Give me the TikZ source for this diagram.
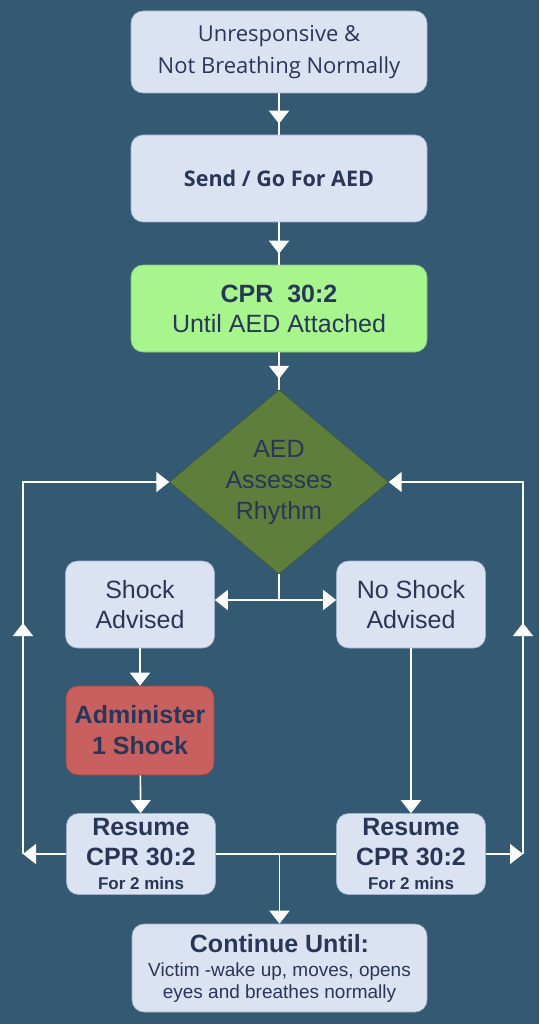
\documentclass[tikz,border=0pt]{standalone}
\usepackage{fontspec}
\setmainfont{Liberation Sans}
\newfontfamily\headfont{Open Sans}
\usetikzlibrary{arrows.meta,shapes.geometric,decorations.markings}

\definecolor{backdrop}{RGB}{52,90,115}
\definecolor{stepfill}{RGB}{219,226,241}
\definecolor{stepline}{RGB}{160,176,202}
\definecolor{inkblue}{RGB}{40,55,88}
\definecolor{cprgreen}{RGB}{168,245,142}
\definecolor{aedgreen}{RGB}{93,127,59}
\definecolor{shockred}{RGB}{200,96,96}

\tikzset{
  stepbox/.style={draw=stepline, line width=0.6pt, fill=stepfill, rounded corners=12pt,
    text=inkblue, align=center, inner sep=0pt},
  wide/.style={stepbox, minimum width=296pt, minimum height=87pt},
  narrow/.style={stepbox, minimum width=149pt, minimum height=87pt},
  decide/.style={diamond, draw=aedgreen!70!black, fill=aedgreen, aspect=1.19, inner sep=0pt,
    minimum width=219pt, minimum height=184pt, align=center, text=inkblue},
  big/.style={font=\fontsize{25}{30}\selectfont},
  wire/.style={white, line width=1.6pt},
  flow/.style={wire, -{Triangle[length=13pt,width=20pt]}},
  lead/.style={wire, postaction={decorate, decoration={markings,
    mark=at position -11pt with {\arrow{Triangle[length=13pt,width=20pt]}}}}},
  midup/.style={flow, postaction={decorate, decoration={markings,
    mark=at position 231pt with {\arrow{Triangle[length=13pt,width=20pt]}}}}}
}

\begin{document}
\begin{tikzpicture}[x=1pt, y=-1pt]
  \fill[backdrop] (0,0) rectangle (539,1024);
  \useasboundingbox (0,0) rectangle (539,1024);

  % main column
  \node[wide, minimum height=82pt, font=\headfont\fontsize{22}{32}\selectfont] (unresp) at (279,52)
    {Unresponsive \&\\Not Breathing Normally};
  \node[wide, font=\headfont\bfseries\fontsize{21.5}{26}\selectfont] (sendaed) at (279,178.5)
    {Send / Go For AED};
  \node[wide, fill=cprgreen, draw=cprgreen!80!black, big] (cpr) at (279,308.5)
    {\textbf{CPR\ \ 30:2}\\Until AED Attached};
  \node[decide, font=\fontsize{25}{31}\selectfont] (assess) at (279,482)
    {AED\\Assesses\\Rhythm};

  % the two branches
  \node[narrow, big] (shock) at (140,604.5) {Shock\\Advised};
  \node[narrow, big] (noshock) at (411,604.5) {No Shock\\Advised};
  \node[narrow, minimum width=148pt, minimum height=89pt, fill=shockred, draw=shockred!75!black,
    font=\bfseries\fontsize{25}{31}\selectfont] (admin) at (140,730.5) {Administer\\1 Shock};
  \node[narrow, minimum height=81pt, font=\bfseries\fontsize{25}{30}\selectfont] (resumeL) at (141,854)
    {Resume\\CPR 30:2\\[-6pt]{\fontsize{17}{20}\selectfont For 2 mins}};
  \node[narrow, minimum height=81pt, font=\bfseries\fontsize{25}{30}\selectfont] (resumeR) at (411,854)
    {Resume\\CPR 30:2\\[-6pt]{\fontsize{17}{20}\selectfont For 2 mins}};
  \node[wide, minimum width=295pt, minimum height=88pt, font=\fontsize{19}{22}\selectfont] (until) at (279.5,968)
    {{\bfseries\fontsize{25}{25}\selectfont Continue Until:}\\[2pt]Victim -wake up, moves, opens\\eyes and breathes normally};

  % connectors
  \draw[lead] (unresp) -- (sendaed);
  \draw[lead] (sendaed) -- (cpr);
  \draw[lead] (cpr) -- (assess);

  \coordinate (split) at (279,600);
  \draw[wire] (assess.south) -- (split);
  \draw[flow] (split) -- (split -| shock.east);
  \draw[flow] (split) -- (split -| noshock.west);
  \draw[flow] (shock) -- (admin);
  \draw[flow] (admin) -- (resumeL);
  \draw[flow] (noshock) -- (resumeR);

  % loops back to the rhythm check
  \coordinate (loopL) at (23,854);
  \coordinate (loopR) at (523,854);
  \draw[flow] (resumeL) -- (loopL);
  \draw[midup] (loopL) |- (assess.west);
  \draw[flow] (resumeR) -- (loopR);
  \draw[midup] (loopR) |- (assess.east);

  \coordinate (join) at (279.5,854);
  \draw[wire] (resumeL) -- (resumeR);
  \draw[flow] (join) -- (until);
\end{tikzpicture}
\end{document}
